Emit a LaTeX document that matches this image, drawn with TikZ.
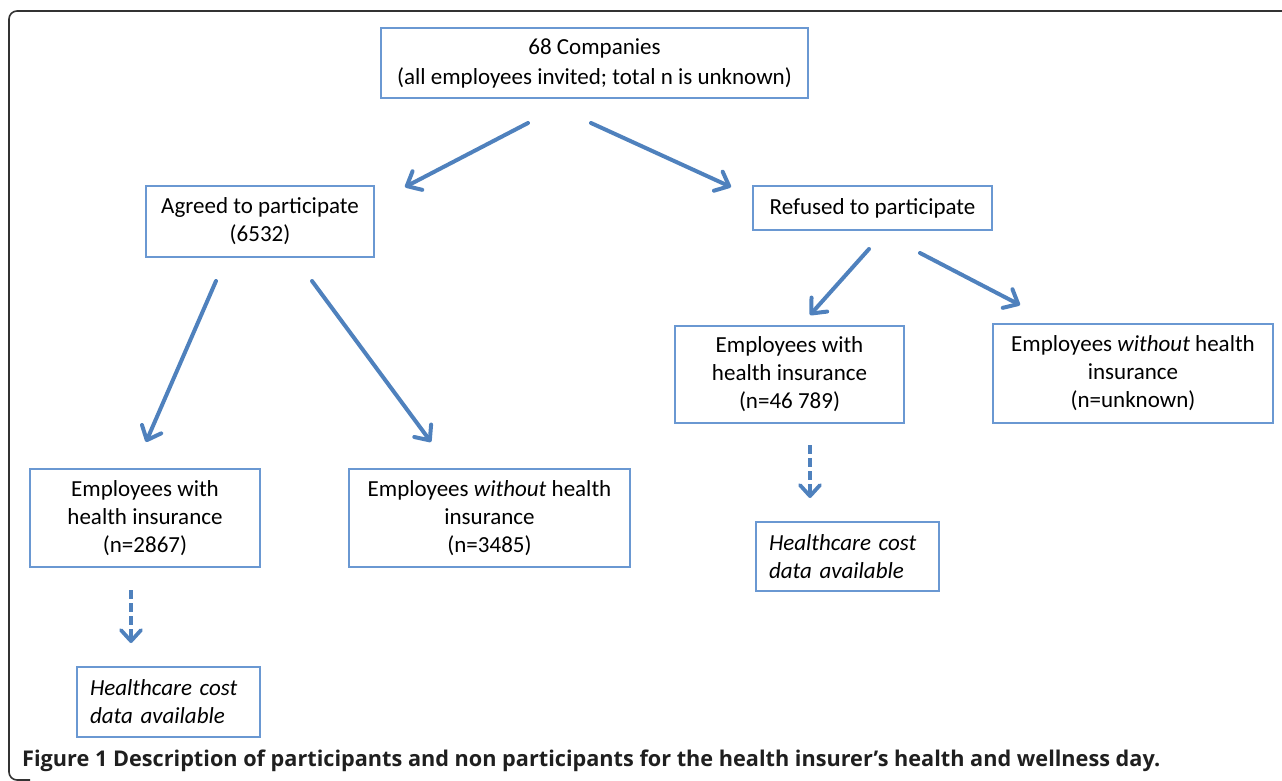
\documentclass[tikz,border=0pt]{standalone}
\usepackage{fontspec}
\setmainfont{Carlito}
\newfontfamily\capfont{Open Sans}
\usetikzlibrary{arrows.meta}
\definecolor{arrblue}{HTML}{4F81BD}
\definecolor{boxblue}{HTML}{6A98D2}
\definecolor{framegray}{HTML}{333333}
\tikzset{
  box/.style={draw=boxblue, line width=1.3pt, inner sep=0pt, align=center,
    font=\fontsize{23}{28}\selectfont, text=black},
  arr/.style={draw=arrblue, line width=4pt, line cap=round,
    -{Straight Barb[length=12pt,width=21pt,line cap=round,line join=round]}},
  darr/.style={draw=arrblue, line width=3.8pt, dash pattern=on 9pt off 4pt, line cap=butt,
    -{Straight Barb[length=11pt,width=20pt,line cap=round,line join=round]}},
}
\begin{document}
\begin{tikzpicture}[x=1pt,y=-1pt]
\useasboundingbox (0,0) rectangle (1282,781);
% outer frame
\draw[framegray, line width=1.6pt, rounded corners=8pt] (1290,11) -- (9,11) -- (9,780) -- (30,780);

\node[box, minimum width=427pt, minimum height=70pt] (top) at (594.5,63)
  {68 Companies\\[2pt](all employees invited; total n is unknown)};
\node[box, minimum width=228pt, minimum height=71pt] (agreed) at (260,221.5)
  {Agreed to participate\\(6532)};
\node[box, minimum width=239pt, minimum height=44pt] (refused) at (872.5,208)
  {Refused to participate};
\node[box, minimum width=229pt, minimum height=97pt] (ehiR) at (789.5,374.5)
  {Employees with\\health insurance\\(n=46 789)};
\node[box, minimum width=280pt, minimum height=99pt] (ewoR) at (1133,373.5)
  {Employees \textit{without} health\\insurance\\(n=unknown)};
\node[box, minimum width=230pt, minimum height=98pt] (ehiL) at (145,518)
  {Employees with\\health insurance\\(n=2867)};
\node[box, minimum width=281pt, minimum height=98pt] (ewoL) at (489.5,518)
  {Employees \textit{without} health\\insurance\\(n=3485)};
\node[box, minimum width=183pt, minimum height=69pt, align=left, text width=157pt] (hcR) at (847.5,556.5)
  {\itshape Healthcare cost\\data available};
\node[box, minimum width=183pt, minimum height=70pt, align=left, text width=157pt] (hcL) at (168.5,702)
  {\itshape Healthcare cost\\data available};

% connector end points
\coordinate (a1s) at (528,123); \coordinate (a1e) at (405,187);
\coordinate (a2s) at (591,123); \coordinate (a2e) at (731,187);
\coordinate (a3s) at (216,281); \coordinate (a3e) at (146,442);
\coordinate (a4s) at (312,281); \coordinate (a4e) at (431,442);
\coordinate (a5s) at (869,249); \coordinate (a5e) at (810,315);
\coordinate (a6s) at (920,253); \coordinate (a6e) at (1020,305);
\coordinate (d1s) at (810,445); \coordinate (d1e) at (810,498);
\coordinate (d2s) at (131,590); \coordinate (d2e) at (131,643);

\draw[arr] (a1s) -- (a1e);
\draw[arr] (a2s) -- (a2e);
\draw[arr] (a3s) -- (a3e);
\draw[arr] (a4s) -- (a4e);
\draw[arr] (a5s) -- (a5e);
\draw[arr] (a6s) -- (a6e);
\draw[darr] (d1s) -- (d1e);
\draw[darr] (d2s) -- (d2e);

\node[anchor=base west, inner sep=0pt, text=black!88] (cap) at (22,766)
  {\resizebox{1138pt}{!}{\capfont\fontsize{18}{20}\selectfont\bfseries Figure 1 Description of participants and non participants for the health insurer’s health and wellness day.}};
\end{tikzpicture}
\end{document}
